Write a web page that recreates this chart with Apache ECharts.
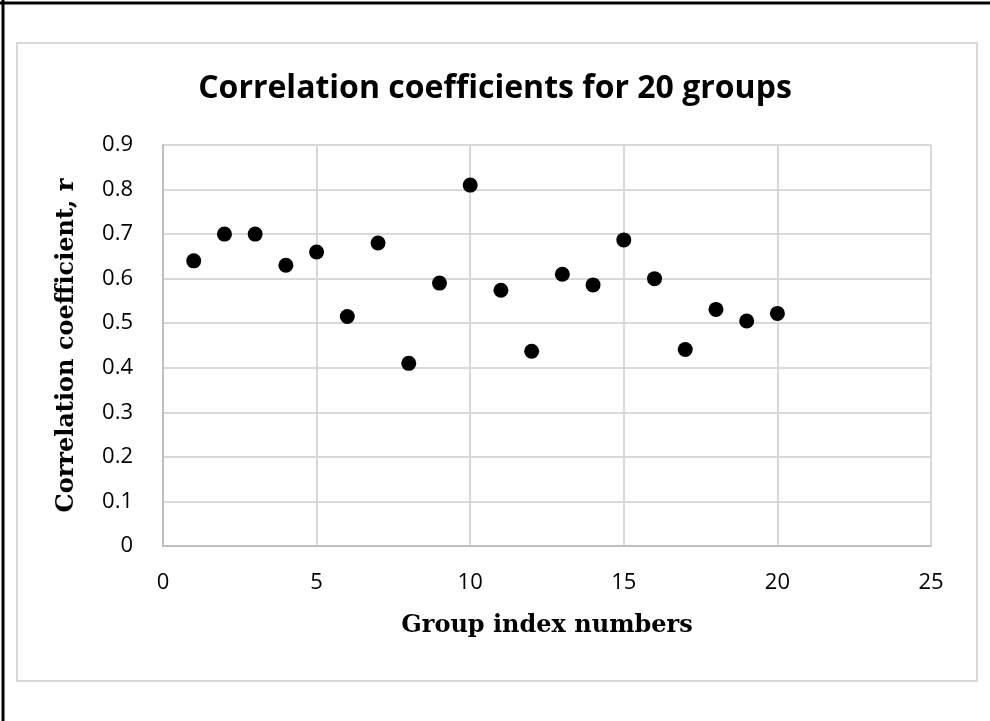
<!DOCTYPE html>
<html>
<head>
<meta charset="utf-8">
<script src="https://cdn.jsdelivr.net/npm/echarts@6/dist/echarts.min.js"></script>
<style>
  html, body { margin: 0; padding: 0; background: #fff; }
  #main { width: 990px; height: 721px; }
</style>
</head>
<body>
<div id="main"></div>
<script>
// group index numbers
var groups = [1, 2, 3, 4, 5, 6, 7, 8, 9, 10, 11, 12, 13, 14, 15, 16, 17, 18, 19, 20];
// correlation coefficient r per group
var rValues = [0.64, 0.70, 0.70, 0.63, 0.66, 0.515, 0.68, 0.41, 0.59, 0.81,
               0.574, 0.437, 0.61, 0.586, 0.687, 0.60, 0.441, 0.531, 0.505, 0.522];

var points = [];
groups.forEach(function (g, i) {
  points.push([g, rValues[i]]);
});

var chart = echarts.init(document.getElementById('main'));
var option = {
  animation: false,
  backgroundColor: '#fff',
  title: {
    text: 'Correlation coefficients for 20 groups',
    left: 'center',
    top: 68,
    textStyle: {
      color: '#000',
      fontFamily: 'Open Sans',
      fontWeight: 'bold',
      fontSize: 32
    }
  },
  graphic: [
    // outer frame of the chart area
    {
      type: 'rect',
      shape: { x: 17, y: 43, width: 960, height: 638 },
      style: { fill: 'none', stroke: '#d9d9d9', lineWidth: 2 },
      silent: true
    },
    // black edges of the picture
    {
      type: 'line',
      shape: { x1: 0, y1: 3, x2: 990, y2: 3 },
      style: { stroke: '#000', lineWidth: 3 }
    },
    {
      type: 'line',
      shape: { x1: 3, y1: 0, x2: 3, y2: 721 },
      style: { stroke: '#000', lineWidth: 3 }
    }
  ],
  grid: {
    left: 163,
    right: 59,
    top: 145,
    bottom: 175
  },
  xAxis: {
    type: 'value',
    min: 0,
    max: 25,
    interval: 5,
    name: 'Group index numbers',
    nameLocation: 'middle',
    nameGap: 68,
    nameTextStyle: {
      color: '#000',
      fontFamily: 'DejaVu Serif',
      fontWeight: 'bold',
      fontSize: 24
    },
    axisLine: { show: true, lineStyle: { color: '#bfbfbf', width: 2 } },
    axisTick: { show: false },
    axisLabel: {
      color: '#000',
      fontFamily: 'Open Sans',
      fontSize: 22,
      margin: 26
    },
    splitLine: { show: true, lineStyle: { color: '#d9d9d9', width: 2 } }
  },
  yAxis: {
    type: 'value',
    min: 0,
    max: 0.9,
    interval: 0.1,
    name: 'Correlation coefficient, r',
    nameLocation: 'middle',
    nameGap: 84,
    nameTextStyle: {
      color: '#000',
      fontFamily: 'DejaVu Serif',
      fontWeight: 'bold',
      fontSize: 24
    },
    axisLine: { show: true, lineStyle: { color: '#bfbfbf', width: 2 } },
    axisTick: { show: false },
    axisLabel: {
      color: '#000',
      fontFamily: 'Open Sans',
      fontSize: 22,
      margin: 30,
      formatter: function (v) { return v === 0 ? '0' : v.toFixed(1); }
    },
    splitLine: { show: true, lineStyle: { color: '#d9d9d9', width: 2 } }
  },
  series: [{
    type: 'scatter',
    data: points,
    symbol: 'circle',
    symbolSize: 15,
    itemStyle: { color: '#000', opacity: 1 }
  }]
};
chart.setOption(option);
</script>
</body>
</html>
